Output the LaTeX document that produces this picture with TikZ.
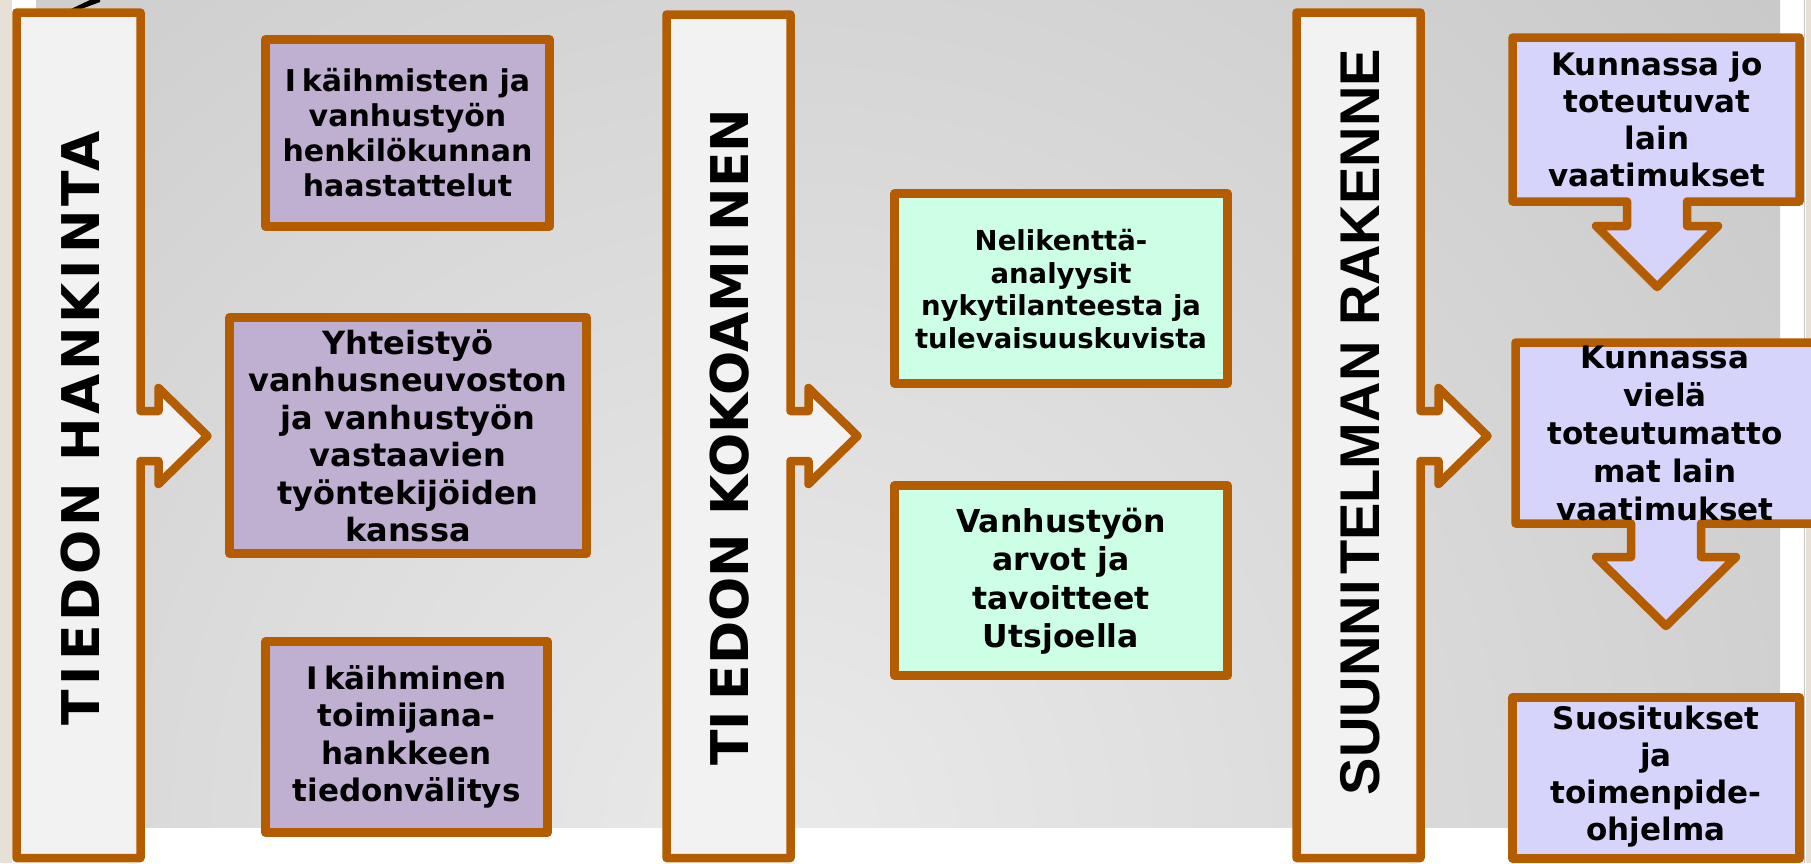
\documentclass[tikz,border=0pt]{standalone}
\usepackage{fontspec}
\setmainfont{DejaVu Sans}
\newfontfamily\arialfont{Liberation Sans}

\definecolor{rimc}{RGB}{179,92,0}
\definecolor{colfill}{RGB}{242,242,242}
\definecolor{purp}{RGB}{191,175,208}
\definecolor{mint}{RGB}{204,255,229}
\definecolor{lav}{RGB}{214,212,250}
\definecolor{bgin}{RGB}{234,234,234}
\definecolor{bgout}{RGB}{178,178,178}
\definecolor{edgec}{RGB}{230,224,214}

\begin{document}
\begin{tikzpicture}[x=1pt,y=-1pt,
    rim/.style={draw=rimc,line width=8.5pt,line join=round},
    col/.style={rim,fill=colfill},
    pbox/.style={rim,fill=purp},
    gbox/.style={rim,fill=mint},
    lbox/.style={rim,fill=lav},
    txt/.style 2 args={align=center,inner sep=0pt,
      font=\bfseries\fontsize{#1}{#2}\selectfont},
    title/.style={inner sep=0pt,rotate=90,
      font=\bfseries\fontsize{52}{60}\selectfont}]
  \useasboundingbox (0,0) rectangle (1811,863);
  \fill[white] (0,0) rectangle (1811,863);
  \fill[edgec] (0,0) rectangle (12,863);
  \fill[edgec] (1806,0) rectangle (1811,863);
  \draw[gray!45,line width=1.5pt] (1804.5,0) -- (1804.5,863);
  \begin{scope}
    \clip (36,0) rectangle (1780,827);
    \shade[inner color=bgin,outer color=bgout] (780,830) circle (2200);
  \end{scope}
  \fill (71,9) -- (76,11) -- (100,2) -- (100,0) -- (90,0) -- cycle;

  \draw[col] (16.5,12.5) -- (140.5,12.5) -- (140.5,411) -- (158.5,411) -- (158.5,388)
        -- (207.5,436) -- (158.5,484) -- (158.5,461) -- (140.5,461) -- (140.5,858)
        -- (16.5,858) -- cycle;
  \draw[col] (666.5,14.5) -- (790.5,14.5) -- (790.5,411) -- (808.5,411) -- (808.5,388)
        -- (857.5,436) -- (808.5,484) -- (808.5,461) -- (790.5,461) -- (790.5,858)
        -- (666.5,858) -- cycle;
  \draw[col] (1296.5,12.5) -- (1420.5,12.5) -- (1420.5,411) -- (1438.5,411) -- (1438.5,388)
        -- (1487.5,436) -- (1438.5,484) -- (1438.5,461) -- (1420.5,461) -- (1420.5,858)
        -- (1296.5,858) -- cycle;

  \draw[pbox] (265.5,39.5) rectangle (549.5,226.5);
  \draw[pbox] (229.5,317.5) rectangle (586.5,553.5);
  \draw[pbox] (265.5,641.5) rectangle (547.5,832.5);

  \draw[gbox] (894.5,193.5) rectangle (1227.5,383.5);
  \draw[gbox] (894.5,485.5) rectangle (1227.5,675.5);

  \draw[lbox] (1512.5,37.5) -- (1799.5,37.5) -- (1799.5,201.5) -- (1687,201.5) -- (1687,226)
        -- (1718,226) -- (1657,287) -- (1596,226) -- (1627,226) -- (1627,201.5)
        -- (1512.5,201.5) -- cycle;
  \draw[lbox] (1515.5,342.5) -- (1830,342.5) -- (1830,523.5) -- (1701,523.5) -- (1701,557)
        -- (1736,557) -- (1666,626) -- (1596,557) -- (1631,557) -- (1631,523.5)
        -- (1515.5,523.5) -- cycle;
  \draw[lbox] (1512.5,697.5) rectangle (1799.5,858.5);

  \node[title] (hankinta) at (81,428)
        {\addfontfeatures{LetterSpace=7}TI\kern.12em EDON HANKI\kern.12em NTA};
  \node[title] (kokoaminen) at (730,437) {TI\kern.2em EDON KOKOAMI\kern.2em NEN};
  \node[title,font=\arialfont\bfseries\fontsize{56}{64}\selectfont] (rakenne) at (1360,422)
        {SUUNNI\kern.1em TELMAN RAKENNE};

  \node[txt={30}{35}] (haast) at (407.5,133) {I\kern.2em käihmisten ja\\vanhustyön\\henkilökunnan\\haastattelut};
  \node[txt={32}{37.5}] (yhteis) at (408,436) {Yhteistyö\\vanhusneuvoston\\ja vanhustyön\\vastaavien\\työntekijöiden\\kanssa};
  \node[txt={31}{37.5}] (toimija) at (406.5,737) {I\kern.2em käihminen\\toimijana-\\hankkeen\\tiedonvälitys};

  \node[txt={27.5}{32.5}] (neli) at (1061,289) {Nelikenttä-\\analyysit\\nykytilanteesta ja\\tulevaisuuskuvista};
  \node[txt={31.5}{38.5}] (arvot) at (1061,581) {Vanhustyön\\arvot ja\\tavoitteet\\Utsjoella};

  \node[txt={31}{37}] (jo) at (1657,119) {Kunnassa jo\\toteutuvat\\lain\\vaatimukset};
  \node[txt={31}{38}] (viela) at (1665,433) {Kunnassa\\vielä\\toteutumatto\\mat lain\\vaatimukset};
  \node[txt={31}{37}] (suos) at (1656,777) {Suositukset\\ja\\toimenpide-\\ohjelma};
\end{tikzpicture}
\end{document}
